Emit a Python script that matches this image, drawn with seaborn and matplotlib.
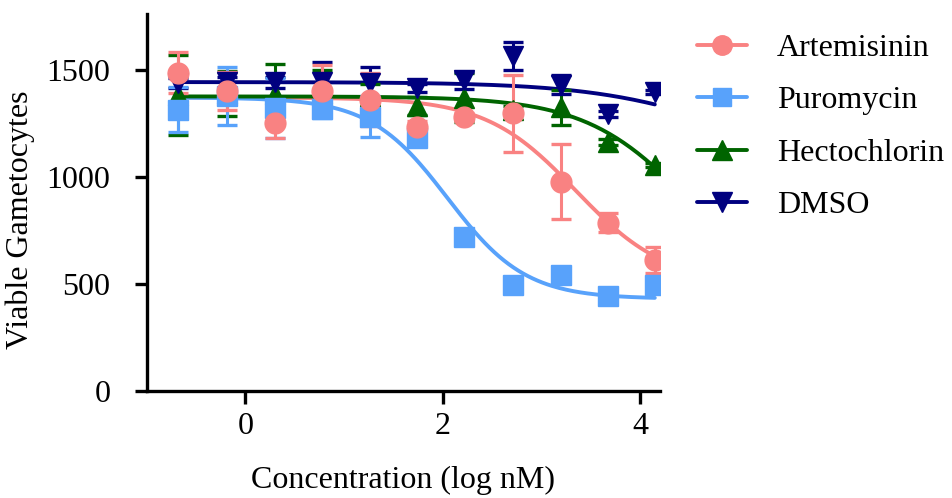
import numpy as np
import pandas as pd
import matplotlib
matplotlib.use('Agg')
import matplotlib.pyplot as plt
import seaborn as sns
from matplotlib.lines import Line2D

sns.set_style('ticks')
plt.rcParams['font.family'] = ['Liberation Serif', 'DejaVu Serif']
plt.rcParams['font.size'] = 23
plt.rcParams['text.color'] = 'black'
plt.rcParams['axes.labelcolor'] = 'black'
plt.rcParams['axes.edgecolor'] = 'black'

# Data
log_conc = [-0.68, -0.19, 0.30, 0.78, 1.26, 1.74, 2.22, 2.71, 3.20, 3.68, 4.15]

drugs = ['Artemisinin', 'Puromycin', 'Hectochlorin', 'DMSO']
colors = ['#F98282', '#58A2FB', '#006400', '#00007F']
markers = ['o', 's', '^', 'v']

artemisinin = [1485, 1400, 1252, 1400, 1360, 1230, 1278, 1296, 976, 785, 612]
artemisinin_err = [95, 88, 72, 120, 125, 30, 20, 180, 175, 45, 60]
puromycin = [1312, 1375, 1320, 1315, 1280, 1180, 720, 495, 542, 445, 495]
puromycin_err = [105, 135, 140, 40, 95, 25, 15, 15, 15, 15, 15]
hectochlorin = [1383, 1390, 1385, 1390, 1375, 1330, 1369, 1310, 1324, 1163, 1056]
hectochlorin_err = [187, 105, 140, 110, 60, 40, 115, 20, 82, 15, 10]
dmso = [1438, 1440, 1440, 1440, 1438, 1415, 1450, 1565, 1430, 1294, 1397]
dmso_err = [25, 25, 25, 95, 75, 20, 40, 65, 45, 15, 10]

# fitted dose-response curves (top, bottom, logIC50, hill slope)
fit_top = [1370, 1370, 1375, 1442]
fit_bottom = [500, 430, 350, 1000]
fit_logic50 = [3.35, 2.05, 4.55, 5.0]
fit_hill = [0.95, 1.1, 0.8, 0.6]

values = [artemisinin, puromycin, hectochlorin, dmso]
errors = [artemisinin_err, puromycin_err, hectochlorin_err, dmso_err]

fig = plt.figure(figsize=(9.52, 4.98), dpi=100)
ax = fig.add_axes([0.154, 0.215, 0.539, 0.757])

xs = np.linspace(-0.68, 4.15, 200)
curves = []
for i, drug in enumerate(drugs):
    y = fit_bottom[i] + (fit_top[i] - fit_bottom[i]) / (1 + 10 ** ((xs - fit_logic50[i]) * fit_hill[i]))
    curves.append(pd.DataFrame({'x': xs, 'y': y, 'drug': drug}))
curve_df = pd.concat(curves)

sns.lineplot(data=curve_df, x='x', y='y', hue='drug', palette=dict(zip(drugs, colors)),
             linewidth=2.8, legend=False, ax=ax, zorder=2)

draw_order = [2, 3, 1, 0]
for i in draw_order:
    ms = 14 if markers[i] == 's' else 15
    ax.errorbar(log_conc, values[i], yerr=errors[i], fmt=markers[i], color=colors[i],
                markersize=ms, elinewidth=2.2, capsize=7.5, capthick=2.4, zorder=3)

ax.set_xlim(-1, 4.2)
ax.set_ylim(0, 1760)
ax.set_xticks([0, 2, 4])
ax.set_yticks([0, 500, 1000, 1500])
ax.set_xlabel('Concentration (log nM)', labelpad=18)
ax.set_ylabel('Viable Gametocytes')
ax.yaxis.set_label_coords(-0.218, 0.455)

sns.despine(ax=ax)
for side in ['left', 'bottom']:
    ax.spines[side].set_linewidth(2.4)
ax.tick_params(axis='both', width=2.4, length=9, colors='black', labelsize=23)
ax.tick_params(axis='y', pad=17)
ax.tick_params(axis='x', pad=6)

handles = [Line2D([0], [0], color=colors[i], marker=markers[i], linewidth=2.8,
                  markersize=13 if markers[i] == 's' else 14) for i in range(4)]
fig.legend(handles, drugs, loc='upper left', bbox_to_anchor=(0.702, 0.99),
           frameon=False, fontsize=23, handlelength=1.55, handletextpad=0.95,
           labelspacing=0.72)

fig.savefig('out.png', dpi=100)
